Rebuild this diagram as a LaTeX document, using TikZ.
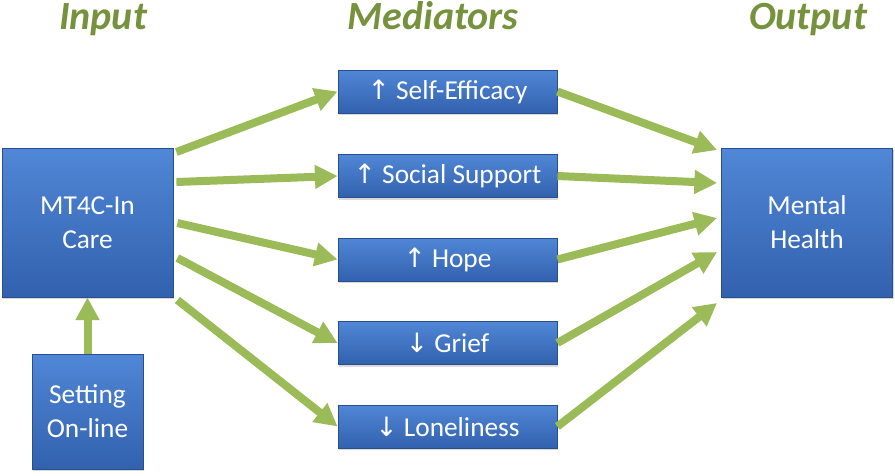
\documentclass[tikz,border=0pt]{standalone}
\usepackage{fontspec}
\setmainfont{Carlito}
\newfontfamily\arrfont{DejaVu Sans}
\usetikzlibrary{arrows.meta, calc, shadows}
\definecolor{boxtop}{RGB}{80,135,214}
\definecolor{boxbot}{RGB}{50,97,174}
\definecolor{boxline}{RGB}{40,78,142}
\definecolor{leaf}{RGB}{155,187,89}
\definecolor{olive}{RGB}{118,146,60}
\newcommand{\up}{{\arrfont\fontsize{20}{20}\selectfont ↑}}
\newcommand{\down}{{\arrfont\fontsize{20}{20}\selectfont ↓}}
\tikzset{
  box/.style={draw=boxline, line width=0.6pt, top color=boxtop, bottom color=boxbot,
    text=white, font=\fontsize{20.5}{25.5}\selectfont, align=center, inner sep=0pt,
    drop shadow={opacity=0.3, shadow xshift=1pt, shadow yshift=-1.5pt}},
  medbox/.style={box, minimum width=164.25pt, minimum height=32.25pt},
  bigbox/.style={box, minimum width=128.25pt, minimum height=111.75pt},
  heading/.style={text=olive, font=\fontsize{30}{30}\selectfont\bfseries\itshape, anchor=base},
  link/.style={->, leaf, line width=6pt},
}

\begin{document}
\begin{tikzpicture}[x=0.75pt, y=-0.75pt, >={Triangle[length=17pt, width=17pt]}]
    \useasboundingbox (0,0) rectangle (895,475);
    % Headings
    \node[heading] (hin) at (103,29) {Input};
    \node[heading] (hmed) at (433,29) {Mediators};
    \node[heading] (hout) at (808,29) {Output};
    % Input and output boxes
    \node[bigbox] (in) at (87.5,222.5) {MT4C-In\\Care};
    \node[box, minimum width=83.25pt, minimum height=86.25pt] (set) at (87.5,411.5) {Setting\\On-line};
    \node[bigbox] (mh) at (807,222.5) {Mental\\Health};
    % Mediators
    \node[medbox] (se) at (447.5,91.5) {\up\ Self-Efficacy};
    \node[medbox] (ss) at (447.5,176) {\up\ Social Support};
    \node[medbox] (hope) at (447.5,259.5) {\up\ Hope};
    \node[medbox] (grief) at (447.5,343) {\down\ Grief};
    \node[medbox] (lone) at (447.5,426.5) {\down\ Loneliness};
    % Arrows in
    \draw[link] (set.north) -- (in.south);
    \draw[link] ($(in.east)+(3,-70.5)$) -- (se.west);
    \draw[link] ($(in.east)+(3,-40.5)$) -- (ss.west);
    \draw[link] ($(in.east)+(4,0.5)$) -- (hope.west);
    \draw[link] ($(in.east)+(4,35.5)$) -- (grief.west);
    \draw[link] ($(in.east)+(4,77.5)$) -- (lone.west);
    % Arrows out
    \draw[link] (se.east) -- ($(mh.west)+(-4,-72.5)$);
    \draw[link] (ss.east) -- ($(mh.west)+(-4,-39.5)$);
    \draw[link] (hope.east) -- ($(mh.west)+(-4,-4.5)$);
    \draw[link] (grief.east) -- ($(mh.west)+(-4,29.5)$);
    \draw[link] (lone.east) -- ($(mh.west)+(-4,80.5)$);
\end{tikzpicture}
\end{document}
